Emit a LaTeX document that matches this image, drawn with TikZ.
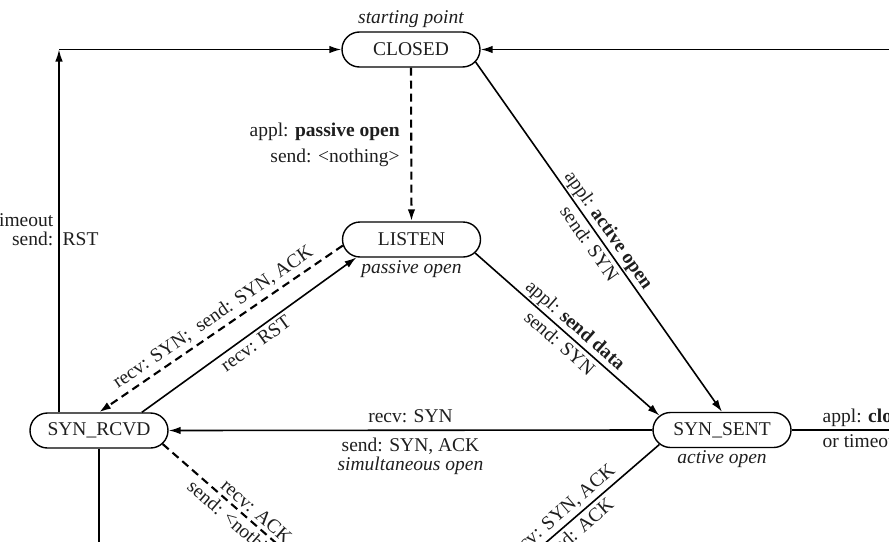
\documentclass[tikz,border=0pt]{standalone}
\usepackage{fontspec}
\setmainfont{Liberation Serif}
\usetikzlibrary{arrows.meta,shapes.misc}
\definecolor{ink}{HTML}{1E1E1E}

\tikzset{
  state/.style={rounded rectangle, draw=black, line width=1.4pt,
    minimum width=138pt, minimum height=35pt, inner sep=0pt,
    font=\fontsize{19.5}{23}\selectfont, text=ink},
  lbl/.style={font=\fontsize{19.5}{21}\selectfont, text=ink, inner sep=1.5pt},
  captext/.style={lbl, font=\fontsize{19.5}{21}\selectfont\itshape},
  trans/.style={draw=black, line width=1.6pt, -{Latex[length=12pt,width=7.5pt]}},
  dtrans/.style={trans, line width=2.1pt, dash pattern=on 8pt off 5pt},
}

\begin{document}
\begin{tikzpicture}[x=1pt,y=-1pt]
\useasboundingbox (0,0) rectangle (889,541);
\clip (0,0) rectangle (889,541);

% states
\node[state] (closed) at (411,49.5)   {CLOSED};
\node[state] (listen) at (411.5,239.5) {LISTEN};
\node[state] (rcvd)   at (99,430.5)   {SYN\_RCVD};
\node[state] (sent)   at (722,430)    {SYN\_SENT};

\node[captext, above=1.5pt] (startcap) at (closed.north) {starting point};
\node[captext, below=1pt] (passcap)  at (listen.south) {passive open};
\node[captext, below=1pt] (actcap)   at (sent.south)   {active open};

% routing points outside the frame
\coordinate (tl)       at (59,49.5);
\coordinate (farright) at (930,430);
\coordinate (est)      at (410,660);
\coordinate (rcvdown)  at (99,570);

% CLOSED <-> LISTEN / SYN_SENT
\draw[dtrans] (closed.south) --
  node[lbl, left=9pt, align=right] (passlbl)
    {appl: \textbf{passive open}\\[5pt]send: <nothing>}
  (listen.north);
\draw[trans] (closed.-11) --
  node[lbl, sloped, above=0pt] (actlbl) {appl: \textbf{active open}}
  node[lbl, sloped, below=2pt] (actsend) {send: SYN}
  (sent.north);
\draw[trans] (listen.-12) --
  node[lbl, sloped, above=0pt] (datalbl) {appl: \textbf{send data}}
  node[lbl, sloped, below=2pt] (datasend) {send: SYN}
  (sent.167);

% LISTEN <-> SYN_RCVD
\draw[dtrans] (listen.185) --
  node[lbl, sloped, above=3pt] (synlbl) {recv: SYN;\hspace{0.5em}send: SYN, ACK}
  (rcvd.north);
\draw[trans] (rcvd.23) --
  node[lbl, sloped, below=2pt] (rstrecv) {recv: RST}
  (listen.198);

% simultaneous open
\draw[trans] (sent.west) --
  node[lbl, above=5pt] (simrecv) {recv: SYN}
  node[lbl, below=5pt, align=center] (simsend)
    {send: SYN, ACK\\[-2pt]\textit{simultaneous open}}
  (rcvd.east);

% returns to CLOSED
\draw[trans] (rcvd.north -| tl) -- (tl);
\draw[trans] (tl) -- (closed.west);
\draw[trans] (sent.east) -- (farright) |- (closed.east);
\node[lbl, anchor=base east] (toutlbl) at (55,226) {timeout};
\node[lbl, anchor=base east] (sendlbl) at (55,245) {send:};
\node[lbl, anchor=base west] (rstlbl)  at (61,245) {RST};
\node[lbl, anchor=base west] (closelbl) at (821,422) {appl: \textbf{close}};
\node[lbl, anchor=base west] (orlbl)    at (821,447) {or timeout};

% towards the data transfer state
\draw[dtrans] (rcvd.-12) --
  node[lbl, sloped, above=2pt, pos=0.35] (ackrecv) {recv: ACK}
  node[lbl, sloped, below=2pt, pos=0.34] (acksend) {send: <nothing>}
  (est);
\draw[trans] (sent.193) --
  node[lbl, sloped, above=2pt, pos=0.36] (sarecv) {recv: SYN, ACK}
  node[lbl, sloped, below=2pt, pos=0.36] (sasend) {send: ACK}
  (est);
\draw[trans] (rcvd.south) -- (rcvdown);
\end{tikzpicture}
\end{document}
